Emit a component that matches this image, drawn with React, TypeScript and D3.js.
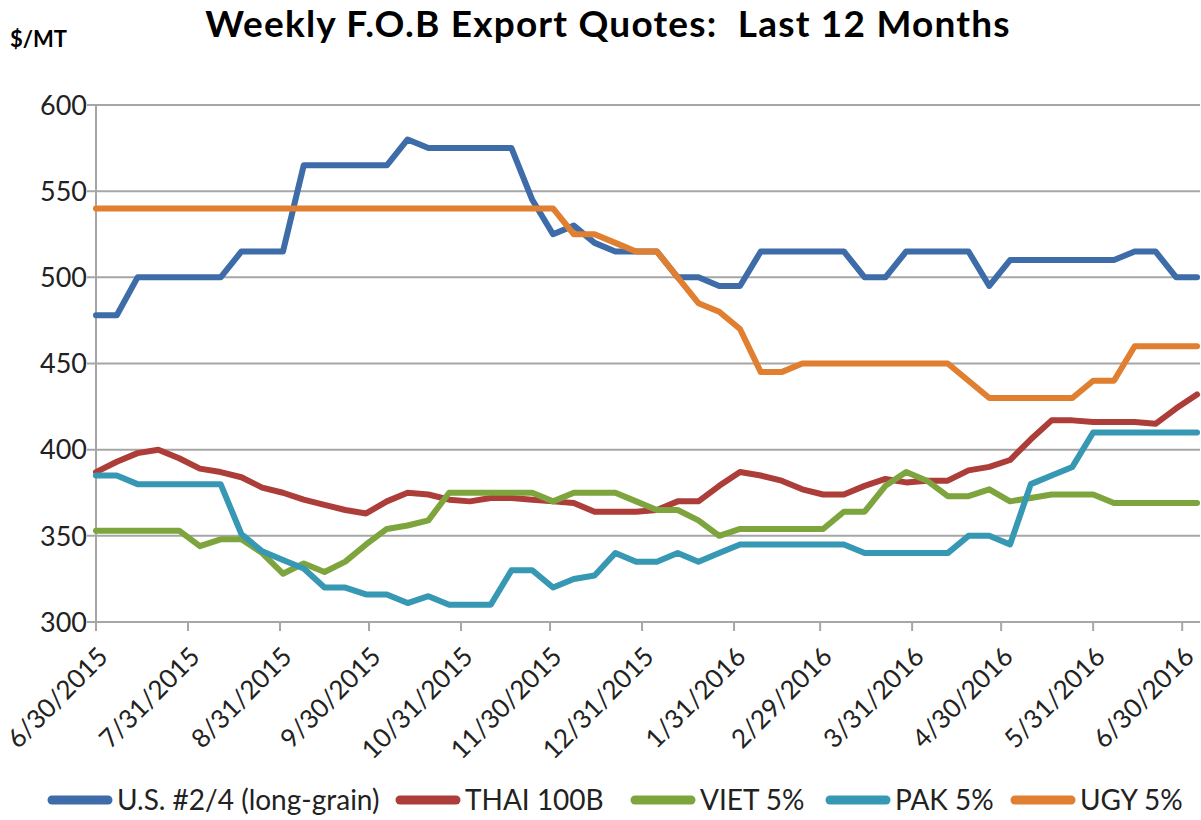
import { useEffect, useRef } from "react";
import * as d3 from "d3";

// weekly quotes, first week 6/30/2015, $/MT
const firstWeek = "6/30/2015";
const usLongGrain = [
  478, 478, 500, 500, 500, 500, 500, 515, 515, 515,
  565, 565, 565, 565, 565, 580, 575, 575, 575, 575,
  575, 545, 525, 530, 520, 515, 515, 515, 500, 500,
  495, 495, 515, 515, 515, 515, 515, 500, 500, 515,
  515, 515, 515, 495, 510, 510, 510, 510, 510, 510,
  515, 515, 500, 500,
];
const thai100B = [
  387, 393, 398, 400, 395, 389, 387, 384, 378, 375,
  371, 368, 365, 363, 370, 375, 374, 371, 370, 372,
  372, 371, 370, 369, 364, 364, 364, 365, 370, 370,
  379, 387, 385, 382, 377, 374, 374, 379, 383, 381,
  382, 382, 388, 390, 394, 406, 417, 417, 416, 416,
  416, 415, 424, 432,
];
const viet5 = [
  353, 353, 353, 353, 353, 344, 348, 348, 340, 328,
  334, 329, 335, 345, 354, 356, 359, 375, 375, 375,
  375, 375, 370, 375, 375, 375, 370, 365, 365, 359,
  350, 354, 354, 354, 354, 354, 364, 364, 379, 387,
  382, 373, 373, 377, 370, 372, 374, 374, 374, 369,
  369, 369, 369, 369,
];
const pak5 = [
  385, 385, 380, 380, 380, 380, 380, 351, 341, 336,
  331, 320, 320, 316, 316, 311, 315, 310, 310, 310,
  330, 330, 320, 325, 327, 340, 335, 335, 340, 335,
  340, 345, 345, 345, 345, 345, 345, 340, 340, 340,
  340, 340, 350, 350, 345, 380, 385, 390, 410, 410,
  410, 410, 410, 410,
];
const ugy5 = [
  540, 540, 540, 540, 540, 540, 540, 540, 540, 540,
  540, 540, 540, 540, 540, 540, 540, 540, 540, 540,
  540, 540, 540, 525, 525, 520, 515, 515, 500, 485,
  480, 470, 445, 445, 450, 450, 450, 450, 450, 450,
  450, 450, 440, 430, 430, 430, 430, 430, 440, 440,
  460, 460, 460, 460,
];

const seriesNames = ["U.S. #2/4 (long-grain)", "THAI 100B", "VIET 5%", "PAK 5%", "UGY 5%"];
const seriesColors = ["#3d6ca9", "#ad3d39", "#7ea53d", "#3798b3", "#e07f30"];
const tickDates = [
  "6/30/2015", "7/31/2015", "8/31/2015", "9/30/2015", "10/31/2015", "11/30/2015",
  "12/31/2015", "1/31/2016", "2/29/2016", "3/31/2016", "4/30/2016", "5/31/2016", "6/30/2016",
];
const yTicks = [300, 350, 400, 450, 500, 550, 600];
const axisEnd = "7/6/2016";
// left edge of each legend swatch
const legendX = [52, 400, 635, 830, 1015];

const FONT = "Lato, 'Open Sans', sans-serif";

const App = () => {
  const svgRef = useRef(null);

  useEffect(() => {
    const svg = d3.select(svgRef.current);
    svg.selectAll("*").remove();

    const parse = d3.timeParse("%m/%d/%Y");
    const start = parse(firstWeek);
    const margins = { left: 96, top: 105, right: 1, bottom: 198 };
    const width = 1201;
    const height = 820;

    const x = d3
      .scaleTime()
      .domain([start, parse(axisEnd)])
      .range([margins.left, width - margins.right]);
    const y = d3
      .scaleLinear()
      .domain([300, 600])
      .range([height - margins.bottom, margins.top]);

    const allSeries = [usLongGrain, thai100B, viet5, pak5, ugy5];

    // title
    svg
      .append("text")
      .attr("x", 608)
      .attr("y", 37)
      .attr("text-anchor", "middle")
      .style("font-family", FONT)
      .style("font-weight", "bold")
      .style("font-size", "37px")
      .style("letter-spacing", "1.2px")
      .style("white-space", "pre")
      .text("Weekly F.O.B Export Quotes:  Last 12 Months");

    svg
      .append("text")
      .attr("x", 10)
      .attr("y", 47)
      .style("font-family", FONT)
      .style("font-weight", "bold")
      .style("font-size", "22px")
      .text("$/MT");

    // gridlines
    svg
      .append("g")
      .selectAll("line")
      .data(yTicks.filter((d) => d > 300))
      .join("line")
      .attr("x1", margins.left - 9)
      .attr("x2", width - margins.right)
      .attr("y1", (d) => y(d))
      .attr("y2", (d) => y(d))
      .attr("stroke", "#a6a6a6")
      .attr("stroke-width", 2);

    // y axis
    const yAxis = svg.append("g");
    yAxis
      .append("line")
      .attr("x1", margins.left)
      .attr("x2", margins.left)
      .attr("y1", y(600))
      .attr("y2", y(300))
      .attr("stroke", "#a6a6a6")
      .attr("stroke-width", 2);
    yAxis
      .selectAll("text")
      .data(yTicks)
      .join("text")
      .attr("x", margins.left - 9)
      .attr("y", (d) => y(d))
      .attr("dy", "0.36em")
      .attr("text-anchor", "end")
      .style("font-family", FONT)
      .style("font-size", "27px")
      .attr("fill", "#222")
      .text((d) => d);

    // x axis
    const xAxis = svg.append("g");
    xAxis
      .append("line")
      .attr("x1", margins.left - 9)
      .attr("x2", width - margins.right)
      .attr("y1", y(300))
      .attr("y2", y(300))
      .attr("stroke", "#a6a6a6")
      .attr("stroke-width", 2);
    const ticks = tickDates.map((t) => ({ label: t, date: parse(t) }));
    xAxis
      .selectAll("line.tick")
      .data(ticks)
      .join("line")
      .attr("class", "tick")
      .attr("x1", (d) => x(d.date))
      .attr("x2", (d) => x(d.date))
      .attr("y1", y(300))
      .attr("y2", y(300) + 9)
      .attr("stroke", "#a6a6a6")
      .attr("stroke-width", 2);
    xAxis
      .selectAll("text")
      .data(ticks)
      .join("text")
      .attr(
        "transform",
        (d) => `translate(${x(d.date) + 7},${y(300) + 30}) rotate(-45)`
      )
      .attr("text-anchor", "end")
      .attr("dy", "0.35em")
      .style("font-family", FONT)
      .style("font-size", "26px")
      .attr("fill", "#222")
      .text((d) => d.label);

    // series lines
    const line = d3
      .line()
      .x((d) => x(d.date))
      .y((d) => y(d.value));
    allSeries.forEach((values, i) => {
      const pts = values.map((v, k) => ({
        date: d3.timeWeek.offset(start, k),
        value: v,
      }));
      svg
        .append("path")
        .datum(pts)
        .attr("d", line)
        .attr("fill", "none")
        .attr("stroke", seriesColors[i])
        .attr("stroke-width", 6)
        .attr("stroke-linejoin", "round")
        .attr("stroke-linecap", "round");
    });

    // legend
    const legend = svg.append("g").attr("transform", "translate(0,800)");
    seriesNames.forEach((name, i) => {
      const sx = legendX[i];
      legend
        .append("line")
        .attr("x1", sx)
        .attr("x2", sx + 56)
        .attr("y1", 0)
        .attr("y2", 0)
        .attr("stroke", seriesColors[i])
        .attr("stroke-width", 9)
        .attr("stroke-linecap", "round");
      legend
        .append("text")
        .attr("x", sx + 65)
        .attr("y", 0)
        .attr("dy", "0.36em")
        .style("font-family", FONT)
        .style("font-size", "28px")
        .attr("fill", "#222")
        .text(name);
    });
  }, []);

  return (
    <div style={{ position: "absolute", left: 0, top: 0 }}>
      <svg ref={svgRef} width={1201} height={820} style={{ display: "block", background: "#fff" }} />
    </div>
  );
};

export default App;
